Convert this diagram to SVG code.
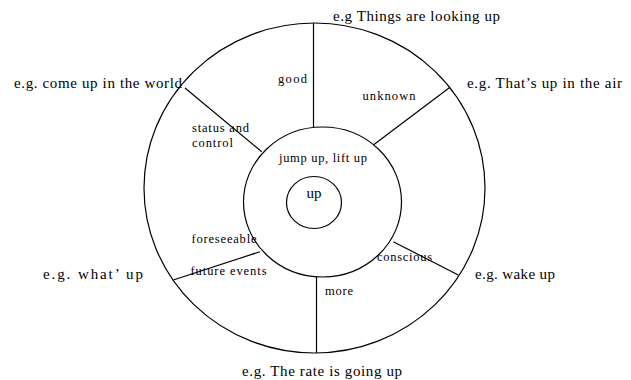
<svg xmlns="http://www.w3.org/2000/svg" width="631" height="380" viewBox="0 0 631 380">
<style>
.c{fill:none;stroke:#000;stroke-width:1.2}
.l{stroke:#000;stroke-width:1.2}
text{font-family:"Liberation Serif","Times New Roman",serif;fill:#000}
.big{font-size:15px}
.sm{font-size:12.5px}
</style>
<rect width="631" height="380" fill="#fff"/>
<g id="outer-ring"><ellipse class="c" cx="314.5" cy="188" rx="170.5" ry="165"/></g>
<g id="middle-ring"><ellipse class="c" cx="322.5" cy="202" rx="79" ry="75"/></g>
<g id="core"><ellipse class="c" cx="314" cy="202.5" rx="27.5" ry="26"/><text class="big" x="306.5" y="198" textLength="15">up</text></g>
<g id="connectors">
<line class="l" x1="313.5" y1="23" x2="313.5" y2="127"/>
<line class="l" x1="316.5" y1="277" x2="316.5" y2="353"/>
<line class="l" x1="185" y1="88" x2="261.7" y2="151.7"/>
<line class="l" x1="450" y1="87.3" x2="373.3" y2="145"/>
<line class="l" x1="393.3" y1="241.7" x2="458.3" y2="275"/>
<line class="l" x1="260" y1="251.7" x2="173.3" y2="280"/>
</g>
<g id="jump"><text class="sm" x="279" y="161.5" textLength="88">jump up, lift up</text></g>
<g id="good"><text class="sm" x="278" y="83" textLength="29">good</text><text class="big" x="333" y="21" textLength="167">e.g Things are looking up</text></g>
<g id="unknown"><text class="sm" x="362.5" y="100" textLength="53">unknown</text><text class="big" x="467" y="88" textLength="155">e.g. That’s up in the air</text></g>
<g id="status"><text class="sm" x="192" y="131.5" textLength="57">status and</text><text class="sm" x="192" y="146.5" textLength="41">control</text><text class="big" x="14" y="88" textLength="168">e.g. come up in the world</text></g>
<g id="foresee"><text class="sm" x="191.5" y="243" textLength="65">foreseeable</text><text class="sm" x="190.5" y="275" textLength="76">future events</text><text class="big" x="43" y="279" textLength="100">e.g. what’ up</text></g>
<g id="conscious"><text class="sm" x="377" y="261" textLength="55">conscious</text><text class="big" x="475" y="279" textLength="80">e.g. wake up</text></g>
<g id="more"><text class="sm" x="325" y="295" textLength="28">more</text><text class="big" x="242" y="376" textLength="160">e.g. The rate is going up</text></g>
</svg>
